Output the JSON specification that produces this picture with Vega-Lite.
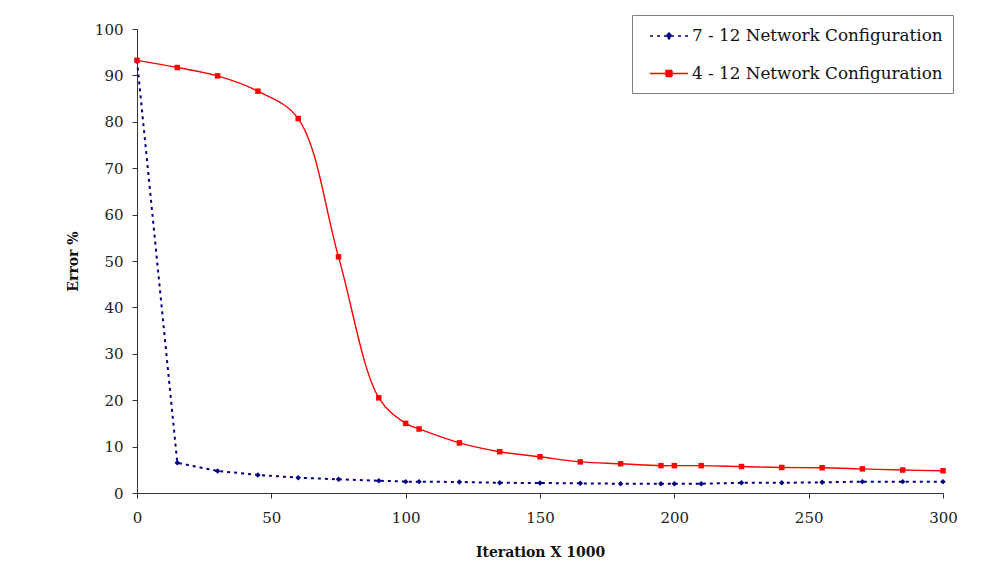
{
  "$schema": "https://vega.github.io/schema/vega-lite/v6.json",
  "width": 806,
  "height": 464,
  "autosize": "none",
  "padding": {"left": 137, "top": 29, "right": 45, "bottom": 94},
  "background": "white",
  "config": {
    "view": {"stroke": null},
    "axis": {
      "grid": false,
      "domainColor": "#333333",
      "tickColor": "#333333",
      "tickSize": 5,
      "labelFont": "DejaVu Serif",
      "labelFontSize": 15,
      "labelColor": "#222222",
      "titleFont": "DejaVu Serif",
      "titleFontSize": 14,
      "titleFontWeight": "bold",
      "titleColor": "#111111"
    }
  },
  "data": {
    "values": [
      {"iter": 0, "error": 93.2, "series": "7 - 12 Network Configuration"},
      {"iter": 15, "error": 6.5, "series": "7 - 12 Network Configuration"},
      {"iter": 30, "error": 4.75, "series": "7 - 12 Network Configuration"},
      {"iter": 45, "error": 3.9, "series": "7 - 12 Network Configuration"},
      {"iter": 60, "error": 3.3, "series": "7 - 12 Network Configuration"},
      {"iter": 75, "error": 2.95, "series": "7 - 12 Network Configuration"},
      {"iter": 90, "error": 2.65, "series": "7 - 12 Network Configuration"},
      {"iter": 100, "error": 2.45, "series": "7 - 12 Network Configuration"},
      {"iter": 105, "error": 2.45, "series": "7 - 12 Network Configuration"},
      {"iter": 120, "error": 2.37, "series": "7 - 12 Network Configuration"},
      {"iter": 135, "error": 2.2, "series": "7 - 12 Network Configuration"},
      {"iter": 150, "error": 2.15, "series": "7 - 12 Network Configuration"},
      {"iter": 165, "error": 2.08, "series": "7 - 12 Network Configuration"},
      {"iter": 180, "error": 2.0, "series": "7 - 12 Network Configuration"},
      {"iter": 195, "error": 2.0, "series": "7 - 12 Network Configuration"},
      {"iter": 200, "error": 2.0, "series": "7 - 12 Network Configuration"},
      {"iter": 210, "error": 2.0, "series": "7 - 12 Network Configuration"},
      {"iter": 225, "error": 2.2, "series": "7 - 12 Network Configuration"},
      {"iter": 240, "error": 2.2, "series": "7 - 12 Network Configuration"},
      {"iter": 255, "error": 2.3, "series": "7 - 12 Network Configuration"},
      {"iter": 270, "error": 2.45, "series": "7 - 12 Network Configuration"},
      {"iter": 285, "error": 2.45, "series": "7 - 12 Network Configuration"},
      {"iter": 300, "error": 2.45, "series": "7 - 12 Network Configuration"},
      {"iter": 0, "error": 93.25, "series": "4 - 12 Network Configuration"},
      {"iter": 15, "error": 91.7, "series": "4 - 12 Network Configuration"},
      {"iter": 30, "error": 89.9, "series": "4 - 12 Network Configuration"},
      {"iter": 45, "error": 86.6, "series": "4 - 12 Network Configuration"},
      {"iter": 60, "error": 80.7, "series": "4 - 12 Network Configuration"},
      {"iter": 75, "error": 50.9, "series": "4 - 12 Network Configuration"},
      {"iter": 90, "error": 20.5, "series": "4 - 12 Network Configuration"},
      {"iter": 100, "error": 15.0, "series": "4 - 12 Network Configuration"},
      {"iter": 105, "error": 13.8, "series": "4 - 12 Network Configuration"},
      {"iter": 120, "error": 10.8, "series": "4 - 12 Network Configuration"},
      {"iter": 135, "error": 8.9, "series": "4 - 12 Network Configuration"},
      {"iter": 150, "error": 7.8, "series": "4 - 12 Network Configuration"},
      {"iter": 165, "error": 6.7, "series": "4 - 12 Network Configuration"},
      {"iter": 180, "error": 6.3, "series": "4 - 12 Network Configuration"},
      {"iter": 195, "error": 5.9, "series": "4 - 12 Network Configuration"},
      {"iter": 200, "error": 5.9, "series": "4 - 12 Network Configuration"},
      {"iter": 210, "error": 5.9, "series": "4 - 12 Network Configuration"},
      {"iter": 225, "error": 5.7, "series": "4 - 12 Network Configuration"},
      {"iter": 240, "error": 5.5, "series": "4 - 12 Network Configuration"},
      {"iter": 255, "error": 5.45, "series": "4 - 12 Network Configuration"},
      {"iter": 270, "error": 5.2, "series": "4 - 12 Network Configuration"},
      {"iter": 285, "error": 4.95, "series": "4 - 12 Network Configuration"},
      {"iter": 300, "error": 4.8, "series": "4 - 12 Network Configuration"}
    ]
  },
  "encoding": {
    "x": {
      "field": "iter", "type": "quantitative",
      "scale": {"domain": [0, 300], "nice": false, "zero": false},
      "axis": {"values": [0, 50, 100, 150, 200, 250, 300], "labelFlush": false, "labelPadding": 12, "title": "Iteration X 1000", "titlePadding": 20, "labelOverlap": false}
    },
    "y": {
      "field": "error", "type": "quantitative",
      "scale": {"domain": [0, 100], "nice": false},
      "axis": {"values": [0, 10, 20, 30, 40, 50, 60, 70, 80, 90, 100], "labelPadding": 9, "title": "Error %", "titlePadding": 14, "labelOverlap": false}
    },
    "color": {
      "field": "series", "type": "nominal",
      "scale": {"domain": ["7 - 12 Network Configuration", "4 - 12 Network Configuration"], "range": ["#000080", "#ff0000"]},
      "legend": {
        "orient": "none", "legendX": 495, "legendY": -14,
        "title": null,
        "fillColor": "white", "strokeColor": "#808080",
        "padding": 10, "rowPadding": 17.5,
        "symbolOffset": 16, "labelOffset": 12, "symbolSize": 400,
        "labelFont": "DejaVu Serif", "labelFontSize": 16.8, "labelColor": "#111111", "labelLimit": 400,
        "encode": {
          "symbols": {
            "update": {
              "shape": {"signal": "datum.value === '7 - 12 Network Configuration' ? 'M-1.9,0H1.9M0,-0.3L0.3,0L0,0.3L-0.3,0Z' : 'M-1.9,0H1.9M-0.3,-0.3H0.3V0.3H-0.3Z'"},
              "fill": {"signal": "datum.value === '7 - 12 Network Configuration' ? '#000080' : '#ff0000'"},
              "stroke": {"signal": "datum.value === '7 - 12 Network Configuration' ? '#000080' : '#ff0000'"},
              "strokeDash": {"signal": "datum.value === '7 - 12 Network Configuration' ? [3, 4] : [1, 0]"},
              "strokeWidth": {"value": 1.5},
              "opacity": {"value": 1},
              "fillOpacity": {"value": 1},
              "size": {"value": 400}
            }
          }
        }
      }
    }
  },
  "layer": [
    {
      "transform": [{"filter": "datum.series === '7 - 12 Network Configuration'"}],
      "mark": {"type": "line", "interpolate": "linear", "strokeDash": [3, 4], "strokeWidth": 2}
    },
    {
      "transform": [{"filter": "datum.series === '4 - 12 Network Configuration'"}],
      "mark": {"type": "line", "interpolate": "catmull-rom", "strokeWidth": 1.4}
    },
    {
      "transform": [{"filter": "datum.series === '7 - 12 Network Configuration'"}],
      "mark": {"type": "point", "shape": "diamond", "filled": true, "opacity": 1, "size": 30}
    },
    {
      "transform": [{"filter": "datum.series === '4 - 12 Network Configuration'"}],
      "mark": {"type": "point", "shape": "square", "filled": true, "opacity": 1, "size": 30}
    }
  ]
}
